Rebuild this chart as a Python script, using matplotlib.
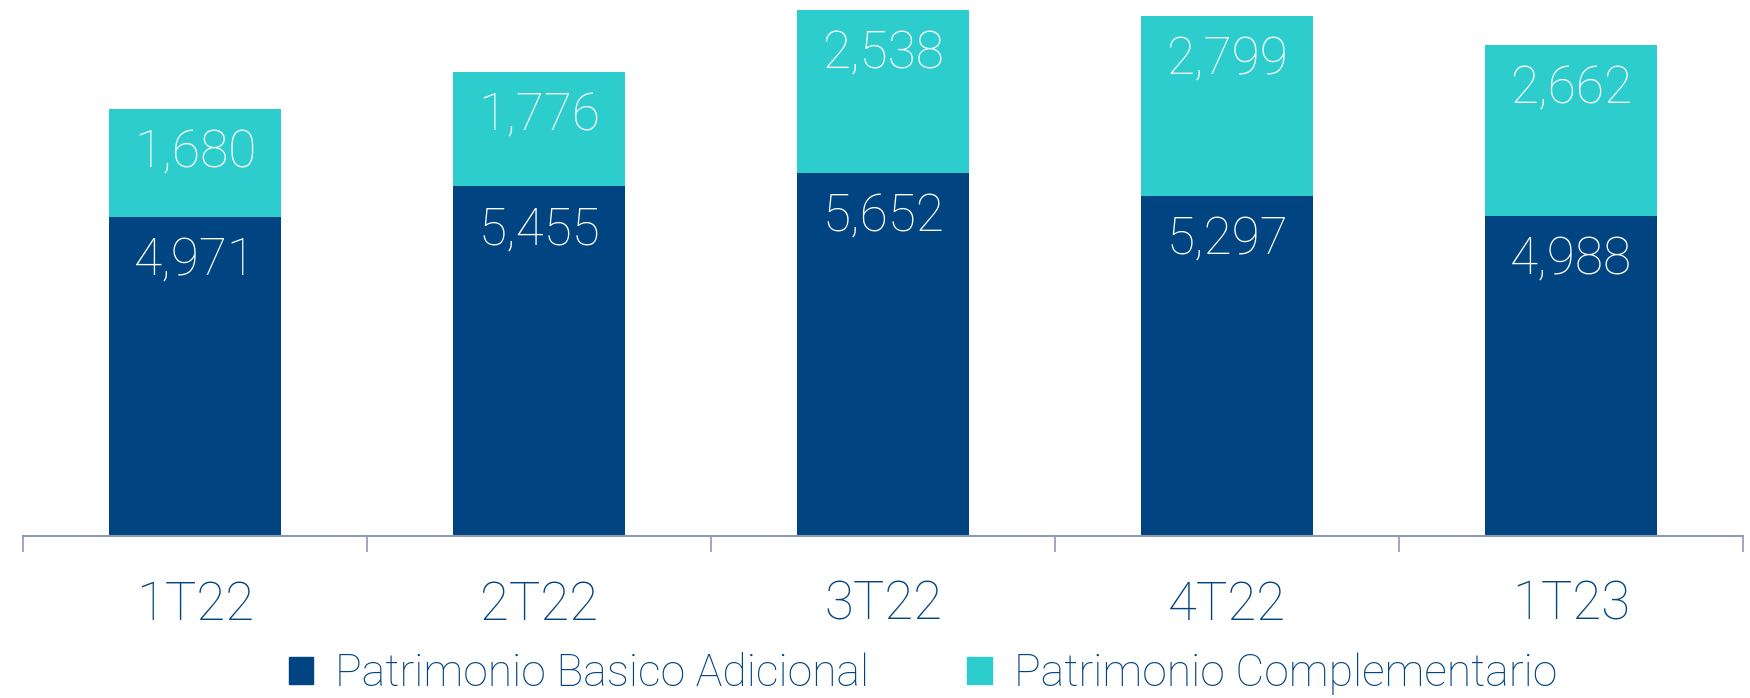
import matplotlib
matplotlib.use("Agg")
import matplotlib.pyplot as plt
import matplotlib.patches as mpatches
import numpy as np

quarters = ["1T22", "2T22", "3T22", "4T22", "1T23"]
basico = [4971, 5455, 5652, 5297, 4988]
complementario = [1680, 1776, 2538, 2799, 2662]
series_names = ["Patrimonio Basico Adicional", "Patrimonio Complementario"]

navy = "#004481"
cyan = "#2DCCCD"
axis_grey = "#8F9BB3"

plt.rcParams["font.family"] = ["Roboto", "DejaVu Sans"]

fig = plt.figure(figsize=(17.5, 6.98), dpi=100)
ax = fig.add_axes([23 / 1750, 162 / 698, 1720 / 1750, 536 / 698])

x = np.arange(len(quarters))
ax.bar(x, basico, width=0.5, color=navy)
ax.bar(x, complementario, width=0.5, bottom=basico, color=cyan)

# value labels inside each segment, just under its top
for i in range(len(quarters)):
    ax.annotate(f"{basico[i]:,}", (x[i], basico[i]), xytext=(0, -32),
                textcoords="offset points", ha="center", va="center",
                color="white", fontsize=37, fontweight="light")
    top = basico[i] + complementario[i]
    ax.annotate(f"{complementario[i]:,}", (x[i], top), xytext=(0, -32),
                textcoords="offset points", ha="center", va="center",
                color="white", fontsize=37, fontweight="light")

ax.set_xlim(-0.5, len(quarters) - 0.5)
ax.set_ylim(0, 8349)

for s in ["top", "right", "left"]:
    ax.spines[s].set_visible(False)
ax.spines["bottom"].set_color(axis_grey)
ax.spines["bottom"].set_linewidth(1.5)
ax.set_yticks([])

ax.set_xticks(x)
ax.set_xticklabels(quarters, fontsize=38, color=navy, fontweight="light")
ax.tick_params(axis="x", which="major", length=0, pad=31)
ax.set_xticks(np.arange(-0.5, len(quarters)), minor=True)
ax.tick_params(axis="x", which="minor", length=11.5, width=1.2,
               color=axis_grey, direction="out")

handles = [mpatches.Patch(color=navy), mpatches.Patch(color=cyan)]
leg = fig.legend(handles, series_names, loc="center",
                 bbox_to_anchor=(923 / 1750, 24 / 698), ncol=2, frameon=False,
                 prop={"size": 32, "weight": "light"},
                 handlelength=0.55, handleheight=0.55, handletextpad=0.5,
                 columnspacing=2.2)
for t in leg.get_texts():
    t.set_color(navy)

fig.savefig("out.png", dpi=100)
